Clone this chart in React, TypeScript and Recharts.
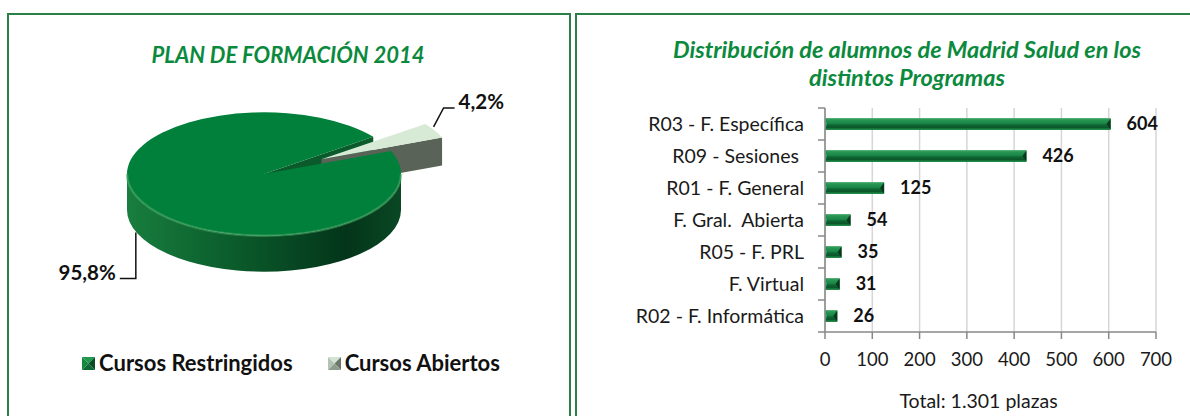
import React from 'react';
import { PieChart, Pie, Cell, Legend, BarChart, Bar, XAxis, YAxis, CartesianGrid, LabelList, Label } from 'recharts';

// pie: order in data = drawing order (the small slice sits behind)
const PIE_NAMES = ['Cursos Abiertos', 'Cursos Restringidos'];
const PIE_VALUES = [4.2, 95.8];
const LEGEND_ORDER = ['Cursos Restringidos', 'Cursos Abiertos'];

const PROGRAMS = [
  'R03 - F. Específica',
  'R09 - Sesiones\u00a0',
  'R01 - F. General',
  'F. Gral.\u00a0 Abierta',
  'R05 - F. PRL',
  'F. Virtual',
  'R02 - F. Informática',
];
const ALUMNOS = [604, 426, 125, 54, 35, 31, 26];
const X_TICKS = [0, 100, 200, 300, 400, 500, 600, 700];

const pieData = PIE_NAMES.map((name, i) => ({ name, value: PIE_VALUES[i] }));
const barData = PROGRAMS.map((name, i) => ({ name, value: ALUMNOS[i] }));

const FONT = 'Lato, "Open Sans", sans-serif';
const TITLE_GREEN = '#0b8a3d';
const BORDER_GREEN = '#2b8045';

const RAD = Math.PI / 180;
const TILT = 0.45;

type SliceStyle = { top: string; side: string[]; face: string; explode: number; depth: number; icon: string[] };
const PIE_STYLE: Record<string, SliceStyle> = {
  'Cursos Restringidos': {
    top: '#00803a',
    side: ['#187e3e', '#0c5f2d', '#03351a', '#0a4824'],
    face: '#0a5a2b',
    explode: 0,
    depth: 36,
    icon: ['#1f9a50', '#13893f', '#0a4a25', '#0e6a34'],
  },
  'Cursos Abiertos': {
    top: '#d6ead6',
    side: ['#646e5f', '#5b6458', '#545d51', '#5b6458'],
    face: '#5a6357',
    explode: 66,
    depth: 28,
    icon: ['#d2e4d2', '#b4c4b4', '#6b756a', '#909b8f'],
  },
};

const ept = (cx: number, cy: number, r: number, a: number) => [
  cx + r * Math.cos(a * RAD),
  cy - r * TILT * Math.sin(a * RAD),
];

// pass 1: cut faces of the pie body; pass 2: exploded slices, then body walls and top
function Pie3DSector(props: any) {
  const { cx, cy, outerRadius, startAngle, endAngle, pass } = props;
  const name = props.payload?.name ?? props.name;
  const st = PIE_STYLE[name] ?? PIE_STYLE['Cursos Restringidos'];
  const exploded = st.explode > 0;
  const d = st.depth;
  const r = exploded ? outerRadius * 0.95 : outerRadius;
  const a0 = Math.min(startAngle, endAngle);
  const a1 = Math.max(startAngle, endAngle);
  const mid = (a0 + a1) / 2;
  const ox = cx + st.explode * Math.cos(mid * RAD);
  const oy = cy - st.explode * TILT * Math.sin(mid * RAD);
  const ry = r * TILT;
  const [x0, y0] = ept(ox, oy, r, a0);
  const [x1, y1] = ept(ox, oy, r, a1);
  const large = a1 - a0 > 180 ? 1 : 0;
  const gid = 'side-' + name.replace(/\s/g, '');
  const showFaces = exploded ? pass === 2 : pass === 1;
  const showBody = pass === 2;

  const faces: React.ReactNode[] = [];
  if (showFaces && Math.cos(a0 * RAD) > 0) {
    faces.push(
      <polygon key="f0" points={`${ox},${oy} ${x0},${y0} ${x0},${y0 + d} ${ox},${oy + d}`} fill={st.face} />
    );
  }
  if (showFaces && Math.cos(a1 * RAD) < 0) {
    faces.push(
      <polygon key="f1" points={`${ox},${oy} ${x1},${y1} ${x1},${y1 + d} ${ox},${oy + d}`} fill={st.face} />
    );
  }
  if (!showBody) return <g>{faces}</g>;

  const walls: React.ReactNode[] = [];
  const edges: React.ReactNode[] = [];
  [-360, 0, 360].forEach((k) => {
    const lo = Math.max(a0, 180 + k);
    const hi = Math.min(a1, 360 + k);
    if (hi <= lo) return;
    const [lx, ly] = ept(ox, oy, r, lo);
    const [hx, hy] = ept(ox, oy, r, hi);
    walls.push(
      <path
        key={'w' + k}
        d={`M${lx},${ly} A${r},${ry} 0 0 0 ${hx},${hy} L${hx},${hy + d} A${r},${ry} 0 0 1 ${lx},${ly + d} Z`}
        fill={`url(#${gid})`}
      />
    );
    edges.push(
      <path
        key={'e' + k}
        d={`M${lx},${ly} A${r},${ry} 0 0 0 ${hx},${hy}`}
        fill="none"
        stroke="#49a866"
        strokeOpacity={0.55}
        strokeWidth={2.5}
      />
    );
  });

  return (
    <g>
      <defs>
        <linearGradient id={gid} gradientUnits="userSpaceOnUse" x1={ox - r} y1={0} x2={ox + r} y2={0}>
          <stop offset="0" stopColor={st.side[0]} />
          <stop offset="0.35" stopColor={st.side[1]} />
          <stop offset="0.8" stopColor={st.side[2]} />
          <stop offset="1" stopColor={st.side[3]} />
        </linearGradient>
      </defs>
      {faces}
      {walls}
      <path d={`M${ox},${oy} L${x0},${y0} A${r},${ry} 0 ${large} 0 ${x1},${y1} Z`} fill={st.top} />
      {edges}
    </g>
  );
}

const SectorPass1 = (p: any) => <Pie3DSector {...p} pass={1} />;
const SectorPass2 = (p: any) => <Pie3DSector {...p} pass={2} />;

function renderPieLabel(props: any) {
  const { cx, cy, midAngle, outerRadius, percent } = props;
  const name = props.payload?.name ?? props.name;
  const st = PIE_STYLE[name] ?? PIE_STYLE['Cursos Restringidos'];
  const ox = cx + st.explode * Math.cos(midAngle * RAD);
  const oy = cy - st.explode * TILT * Math.sin(midAngle * RAD);
  const [px, py] = ept(ox, oy, outerRadius, midAngle);
  const text = (percent * 100).toFixed(1).replace('.', ',') + '%';
  const textStyle = { fontFamily: FONT, fontWeight: 700, fontSize: 20.5, fill: '#111' };
  if (st.explode > 0) {
    const sx = px - 7;
    const sy = py - 2;
    return (
      <g>
        <polyline points={`${sx},${sy} ${sx + 10},${sy - 19} ${sx + 21},${sy - 19}`} fill="none" stroke="#111" strokeWidth={1.5} />
        <text x={sx + 25} y={sy - 18} textAnchor="start" style={textStyle}>{text}</text>
      </g>
    );
  }
  const sx = px - 9;
  const sy = py + st.depth - 8;
  return (
    <g>
      <polyline points={`${sx},${sy} ${sx},${sy + 46} ${sx - 16},${sy + 46}`} fill="none" stroke="#111" strokeWidth={1.5} />
      <text x={sx - 20} y={sy + 48} textAnchor="end" style={textStyle}>{text}</text>
    </g>
  );
}

function LegendIcon({ colors }: { colors: string[] }) {
  const s = 13;
  const h = s / 2;
  return (
    <svg width={s} height={s} style={{ display: 'block', flex: 'none' }}>
      <polygon points={`0,0 ${s},0 ${h},${h}`} fill={colors[0]} />
      <polygon points={`0,0 0,${s} ${h},${h}`} fill={colors[1]} />
      <polygon points={`${s},0 ${s},${s} ${h},${h}`} fill={colors[2]} />
      <polygon points={`0,${s} ${s},${s} ${h},${h}`} fill={colors[3]} />
    </svg>
  );
}

function PieLegend(props: any) {
  const seen = new Set<string>();
  const items = [...(props.payload ?? [])]
    .filter((it: any) => {
      if (!LEGEND_ORDER.includes(it.value) || seen.has(it.value)) return false;
      seen.add(it.value);
      return true;
    })
    .sort((a: any, b: any) => LEGEND_ORDER.indexOf(a.value) - LEGEND_ORDER.indexOf(b.value));
  return (
    <div style={{ display: 'flex', justifyContent: 'center', gap: 35, fontFamily: FONT, marginLeft: 6 }}>
      {items.map((it: any) => (
        <div key={it.value} style={{ display: 'flex', alignItems: 'center', gap: 4, whiteSpace: 'nowrap' }}>
          <LegendIcon colors={(PIE_STYLE[it.value] ?? PIE_STYLE['Cursos Restringidos']).icon} />
          <span style={{ fontWeight: 700, fontSize: 22, lineHeight: '26px', color: '#111' }}>{it.value}</span>
        </div>
      ))}
    </div>
  );
}

function ProgramTick(props: any) {
  const { x, y, payload, index } = props;
  const band = 224 / PROGRAMS.length;
  return (
    <g>
      <line x1={x - 7} x2={x} y1={y - band / 2} y2={y - band / 2} stroke="#888" strokeWidth={1.5} />
      {index === PROGRAMS.length - 1 && (
        <line x1={x - 7} x2={x} y1={y + band / 2} y2={y + band / 2} stroke="#888" strokeWidth={1.5} />
      )}
      <text x={x - 21} y={y} dy="0.35em" textAnchor="end" style={{ fontFamily: FONT, fontSize: 19.5, fill: '#1a1a1a' }}>
        {payload.value}
      </text>
    </g>
  );
}

function BevelBar(props: any) {
  const { x, y, width, height } = props;
  if (!width || width <= 0) return null;
  const cap = Math.min(4, width / 2);
  return (
    <g>
      <rect x={x} y={y} width={width} height={height} fill="url(#barGrad)" />
      <polygon points={`${x},${y} ${x + 2},${y + height / 2} ${x},${y + height}`} fill="#3aa35f" />
      <polygon
        points={`${x + width},${y + 0.5} ${x + width},${y + height - 0.5} ${x + width - cap},${y + height / 2}`}
        fill="#07391b"
      />
    </g>
  );
}

export default function App() {
  return (
    <div
      style={{
        position: 'absolute',
        left: 0,
        top: 0,
        width: 1190,
        height: 416,
        background: '#fff',
        overflow: 'hidden',
        fontFamily: FONT,
      }}
    >
      <div
        style={{
          position: 'absolute',
          left: 7,
          top: 13,
          width: 564,
          height: 430,
          border: `2px solid ${BORDER_GREEN}`,
          boxSizing: 'border-box',
        }}
      />
      <div
        style={{
          position: 'absolute',
          left: 575,
          top: 13,
          width: 640,
          height: 430,
          border: `2px solid ${BORDER_GREEN}`,
          boxSizing: 'border-box',
        }}
      />

      <div
        style={{
          position: 'absolute',
          left: 0,
          top: 40,
          width: 576,
          textAlign: 'center',
          lineHeight: '30px',
          fontWeight: 700,
          fontStyle: 'italic',
          fontSize: 22,
          color: TITLE_GREEN,
        }}
      >
        PLAN DE FORMACIÓN 2014
      </div>
      <div
        style={{
          position: 'absolute',
          left: 624,
          top: 35,
          width: 566,
          textAlign: 'center',
          lineHeight: '28px',
          fontWeight: 700,
          fontStyle: 'italic',
          fontSize: 23.5,
          color: TITLE_GREEN,
        }}
      >
        Distribución de alumnos de Madrid Salud en los
        <br />
        distintos Programas
      </div>

      <div style={{ position: 'absolute', left: 0, top: 0 }}>
        <PieChart width={576} height={416} margin={{ top: 0, right: 0, bottom: 0, left: 0 }}>
          <Pie
            data={pieData}
            dataKey="value"
            nameKey="name"
            cx={264}
            cy={174}
            outerRadius={137}
            startAngle={22}
            endAngle={382}
            stroke="none"
            isAnimationActive={false}
            legendType="none"
            shape={SectorPass1}
            activeShape={SectorPass1}
            inactiveShape={SectorPass1}
          >
            {pieData.map((d) => (
              <Cell key={d.name} fill={PIE_STYLE[d.name].top} />
            ))}
          </Pie>
          <Pie
            data={pieData}
            dataKey="value"
            nameKey="name"
            cx={264}
            cy={174}
            outerRadius={137}
            startAngle={22}
            endAngle={382}
            stroke="none"
            isAnimationActive={false}
            shape={SectorPass2}
            activeShape={SectorPass2}
            inactiveShape={SectorPass2}
            label={renderPieLabel}
            labelLine={false}
          >
            {pieData.map((d) => (
              <Cell key={d.name} fill={PIE_STYLE[d.name].top} />
            ))}
          </Pie>
          <Legend
            content={PieLegend}
            wrapperStyle={{ position: 'absolute', left: 0, top: 350, width: 576 }}
          />
        </PieChart>
      </div>

      <div style={{ position: 'absolute', left: 576, top: 0 }}>
        <BarChart
          width={614}
          height={416}
          layout="vertical"
          data={barData}
          margin={{ top: 108, right: 34, bottom: 0, left: 0 }}
          barSize={12}
        >
          <defs>
            <linearGradient id="barGrad" x1="0" y1="0" x2="0" y2="1">
              <stop offset="0" stopColor="#63b980" />
              <stop offset="0.14" stopColor="#2a9656" />
              <stop offset="0.45" stopColor="#1a8746" />
              <stop offset="0.58" stopColor="#0f6534" />
              <stop offset="0.8" stopColor="#0b572b" />
              <stop offset="0.9" stopColor="#187c40" />
              <stop offset="1" stopColor="#2a8f50" />
            </linearGradient>
          </defs>
          <CartesianGrid horizontal={false} vertical stroke="#d6d6d6" strokeWidth={1.5} />
          <XAxis
            type="number"
            domain={[0, 700]}
            ticks={X_TICKS}
            height={84}
            tickSize={7}
            tickMargin={14}
            stroke="#888"
            strokeWidth={1.5}
            tick={{ fill: '#1a1a1a', fontSize: 18.5, fontFamily: FONT }}
          >
            <Label
              value="Total: 1.301 plazas"
              position="insideBottom"
              offset={8}
              dx={-12}
              style={{ fill: '#1a1a1a', fontSize: 19.5, fontFamily: FONT }}
            />
          </XAxis>
          <YAxis
            type="category"
            dataKey="name"
            width={249}
            tickLine={false}
            tickSize={0}
            tickMargin={0}
            stroke="#888"
            strokeWidth={1.5}
            tick={ProgramTick}
            interval={0}
          />
          <Bar dataKey="value" shape={BevelBar} isAnimationActive={false}>
            <LabelList
              dataKey="value"
              position="right"
              offset={16}
              style={{ fill: '#111', fontWeight: 700, fontSize: 18, fontFamily: FONT }}
            />
          </Bar>
        </BarChart>
      </div>
    </div>
  );
}
